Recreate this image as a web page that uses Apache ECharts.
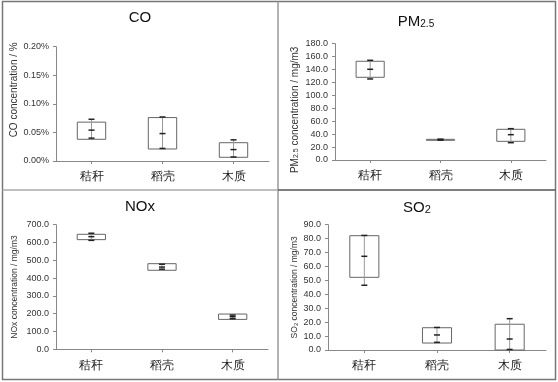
<!DOCTYPE html>
<html>
<head>
<meta charset="utf-8">
<script src="https://cdn.jsdelivr.net/npm/echarts@6/dist/echarts.min.js"></script>
<style>
html,body{margin:0;padding:0;background:#fff;}
#c{width:558px;height:382px;}
</style>
</head>
<body>
<div id="c"></div>
<script>
// ---- data ----
const categories = ['秸秆', '稻壳', '木质'];

// CO (values in %)
const coBoxLow  = [0.038, 0.021, 0.0065];
const coBoxHigh = [0.068, 0.076, 0.032];
const coLow     = [0.040, 0.022, 0.007];
const coHigh    = [0.073, 0.077, 0.037];
const coMean    = [0.054, 0.048, 0.020];

// PM2.5 (mg/m3)
const pmBoxLow  = [128.0, 31.0, 28.9];
const pmBoxHigh = [152.8, 32.0, 47.5];
const pmLow     = [125.4, 30.8, 26.8];
const pmHigh    = [154.3, 32.2, 48.5];
const pmMean    = [140.4, 31.5, 39.2];

// NOx (mg/m3)
const noxBoxLow  = [616, 444, 168];
const noxBoxHigh = [646, 481, 198];
const noxLow     = [612, 450, 172];
const noxHigh    = [652, 478, 192];
const noxMean    = [633, 462, 183];

// SO2 (mg/m3)
const so2BoxLow  = [52.2, 5.0, 0.0];
const so2BoxHigh = [82.1, 16.0, 18.5];
const so2Low     = [46.5, 5.5, 0.4];
const so2High    = [82.3, 16.2, 22.5];
const so2Mean    = [67.3, 10.8, 7.9];

function rows(bl, bh, lo, hi, mean) {
  return categories.map((c, i) => [i, bl[i], bh[i], lo[i], hi[i], mean[i]]);
}

const FONT = '"Liberation Sans", Arial, sans-serif';

function renderItem(params, api) {
  const x = api.value(0);
  const pBH = api.coord([x, api.value(2)]);
  const pBL = api.coord([x, api.value(1)]);
  const pLo = api.coord([x, api.value(3)]);
  const pHi = api.coord([x, api.value(4)]);
  const pM  = api.coord([x, api.value(5)]);
  const bw = api.size([1, 0])[0] * 0.4;
  const cx = pBH[0];
  const t = 3;
  const tick = (p) => ({
    type: 'line',
    shape: { x1: cx - t, y1: p[1], x2: cx + t, y2: p[1] },
    style: { stroke: '#222', lineWidth: 1.5 }
  });
  return {
    type: 'group',
    children: [
      {
        type: 'rect',
        shape: { x: cx - bw / 2, y: pBH[1], width: bw, height: Math.max(pBL[1] - pBH[1], 1) },
        style: { fill: '#fff', stroke: '#666', lineWidth: 1 }
      },
      {
        type: 'line',
        shape: { x1: cx, y1: pLo[1], x2: cx, y2: pHi[1] },
        style: { stroke: '#999', lineWidth: 1 }
      },
      tick(pLo), tick(pHi), tick(pM)
    ]
  };
}

const grids = [
  { left: 56, top: 46.7, width: 213, height: 114.3 },
  { left: 335, top: 43.7, width: 211, height: 116.3 },
  { left: 56, top: 224.7, width: 212, height: 124.6 },
  { left: 328, top: 224.7, width: 218, height: 125.3 }
];

function xAxis(gi) {
  return {
    type: 'category', gridIndex: gi, data: categories,
    axisLine: { lineStyle: { color: '#888', width: 1 } },
    axisTick: { show: true, alignWithLabel: true, length: 3, lineStyle: { color: '#888' } },
    axisLabel: { fontFamily: FONT, fontSize: 12, color: '#222', margin: 10 }
  };
}

function yAxis(gi, max, interval, fmt, name, nameGap, nameSize, rich, pad) {
  return {
    type: 'value', gridIndex: gi, min: 0, max: max, interval: interval,
    splitLine: { show: false },
    axisLine: { show: true, lineStyle: { color: '#888', width: 1 } },
    axisTick: { show: true, length: 3, lineStyle: { color: '#888' } },
    axisLabel: { fontFamily: FONT, fontSize: 9, color: '#333', margin: 7, formatter: fmt },
    name: name, nameLocation: 'middle', nameGap: nameGap, nameRotate: 90,
    nameTextStyle: { fontFamily: FONT, fontSize: nameSize, color: '#333', rich: rich || {}, padding: pad || 0 }
  };
}

const subRich = (size, subSize) => ({
  n: { fontFamily: FONT, fontSize: size, color: '#333' },
  s: { fontFamily: FONT, fontSize: subSize, color: '#333', padding: [Math.round(size * 0.25), 0, 0, 0] }
});

const chart = echarts.init(document.getElementById('c'), null, { renderer: 'canvas' });

const titleStyle = { fontFamily: FONT, fontSize: 15, fontWeight: 'normal', color: '#111' };

chart.setOption({
  animation: false,
  backgroundColor: '#fff',
  title: [
    { text: 'CO', left: 140, top: 10, textAlign: 'center', padding: 0, textStyle: titleStyle },
    { text: '{n|PM}{s|2.5}', left: 416, top: 14, textAlign: 'center', padding: 0,
      textStyle: Object.assign({}, titleStyle, { rich: {
        n: { fontFamily: FONT, fontSize: 15, color: '#111' },
        s: { fontFamily: FONT, fontSize: 10, color: '#111', padding: [5, 0, 0, 0] } } }) },
    { text: 'NOx', left: 140, top: 199, textAlign: 'center', padding: 0, textStyle: titleStyle },
    { text: '{n|SO}{s|2}', left: 417, top: 200, textAlign: 'center', padding: 0,
      textStyle: Object.assign({}, titleStyle, { rich: {
        n: { fontFamily: FONT, fontSize: 15, color: '#111' },
        s: { fontFamily: FONT, fontSize: 11, color: '#111', padding: [4, 0, 0, 0] } } }) }
  ],
  grid: grids,
  xAxis: [xAxis(0), xAxis(1), xAxis(2), xAxis(3)],
  yAxis: [
    yAxis(0, 0.2, 0.05, (v) => v.toFixed(2) + '%', 'CO concentration / %', 34, 10, null, [0, 0, 0, 28]),
    yAxis(1, 180, 20, (v) => v.toFixed(1), '{n|PM}{s|2.5}{n| concentration / mg/m3}', 35, 10, subRich(10, 7), [0, 16, 0, 0]),
    yAxis(2, 700, 100, (v) => v.toFixed(1), 'NOx concentration / mg/m3', 37, 8.5),
    yAxis(3, 90, 10, (v) => v.toFixed(1), '{n|SO}{s|2}{n| concentration / mg/m3}', 27, 8.5, subRich(8.5, 6))
  ],
  series: [
    { type: 'custom', xAxisIndex: 0, yAxisIndex: 0, renderItem: renderItem,
      encode: { x: 0, y: [1, 2, 3, 4, 5] }, data: rows(coBoxLow, coBoxHigh, coLow, coHigh, coMean) },
    { type: 'custom', xAxisIndex: 1, yAxisIndex: 1, renderItem: renderItem,
      encode: { x: 0, y: [1, 2, 3, 4, 5] }, data: rows(pmBoxLow, pmBoxHigh, pmLow, pmHigh, pmMean) },
    { type: 'custom', xAxisIndex: 2, yAxisIndex: 2, renderItem: renderItem,
      encode: { x: 0, y: [1, 2, 3, 4, 5] }, data: rows(noxBoxLow, noxBoxHigh, noxLow, noxHigh, noxMean) },
    { type: 'custom', xAxisIndex: 3, yAxisIndex: 3, renderItem: renderItem,
      encode: { x: 0, y: [1, 2, 3, 4, 5] }, data: rows(so2BoxLow, so2BoxHigh, so2Low, so2High, so2Mean) }
  ],
  graphic: [
    { type: 'rect', shape: { x: 2.5, y: 1.5, width: 553, height: 378 }, style: { fill: 'none', stroke: '#777', lineWidth: 1.5 }, silent: true },
    { type: 'line', shape: { x1: 278, y1: 1.5, x2: 278, y2: 379.5 }, style: { stroke: '#999', lineWidth: 1.5 }, silent: true },
    { type: 'line', shape: { x1: 2.5, y1: 190, x2: 278, y2: 190 }, style: { stroke: '#aaa', lineWidth: 1.5 }, silent: true },
    { type: 'line', shape: { x1: 278, y1: 190, x2: 555.5, y2: 190 }, style: { stroke: '#555', lineWidth: 1.5 }, silent: true }
  ]
});
</script>
</body>
</html>
